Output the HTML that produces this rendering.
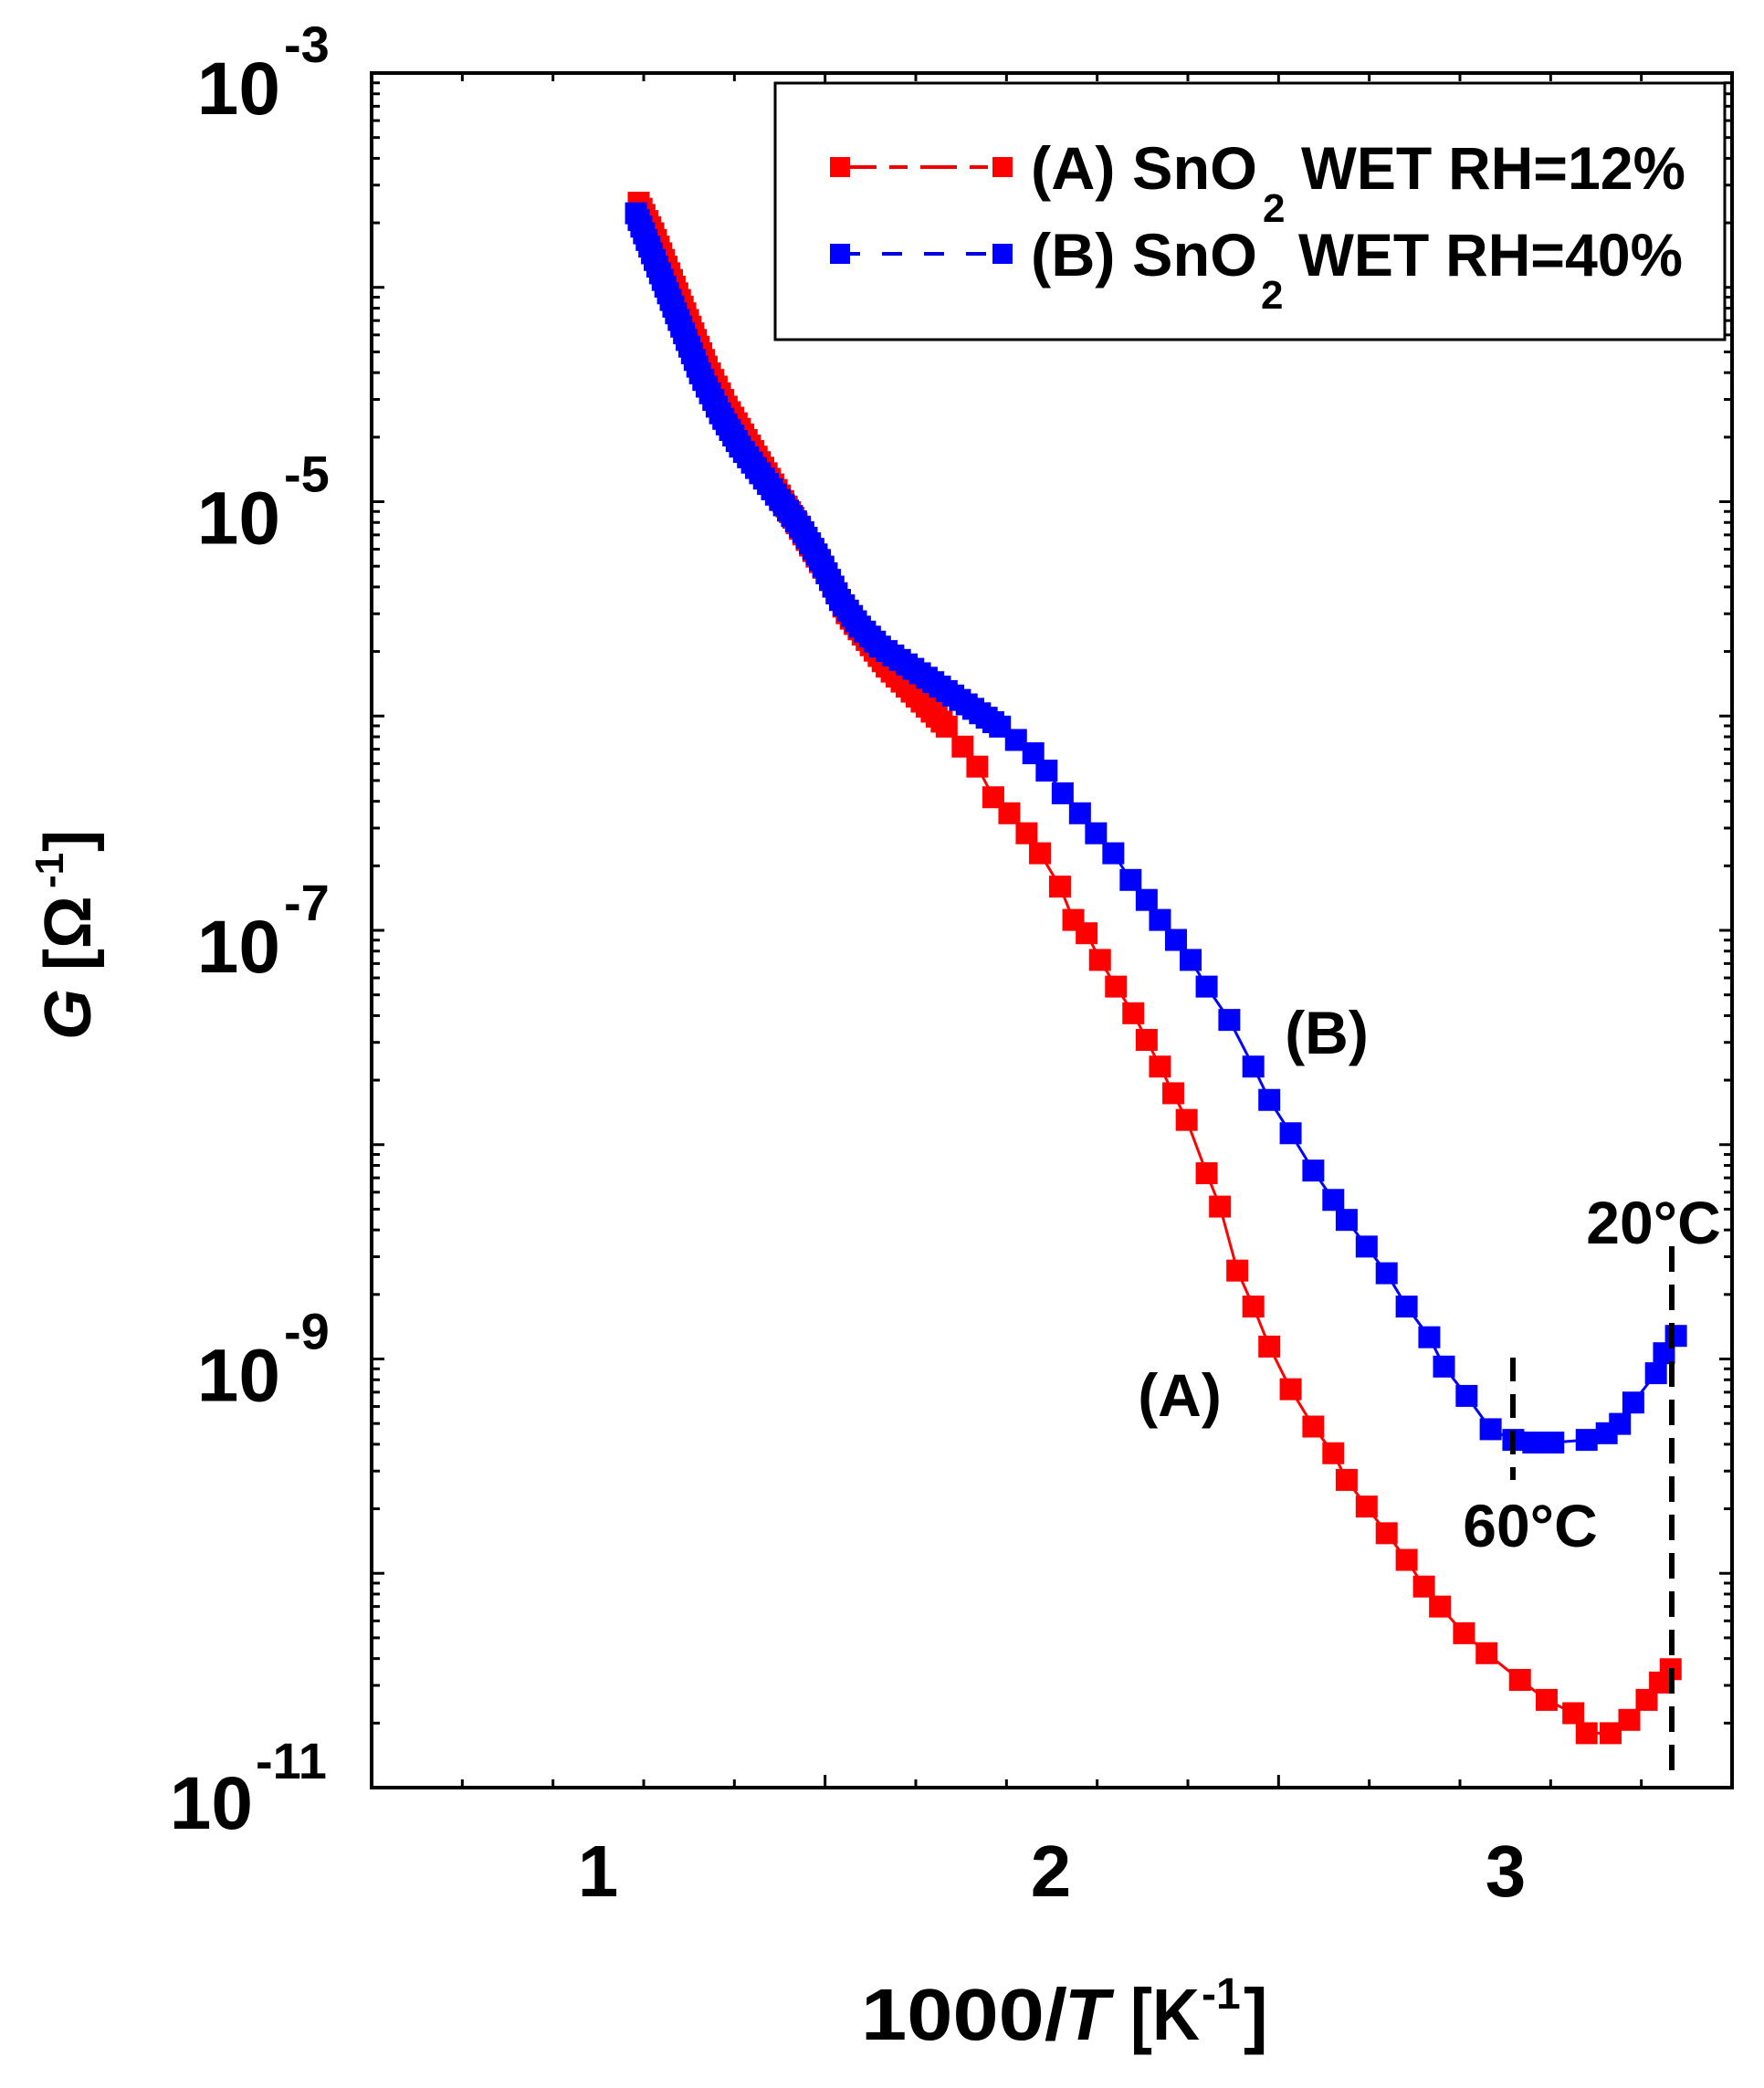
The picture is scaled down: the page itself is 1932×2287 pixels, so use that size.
<!DOCTYPE html>
<html><head><meta charset="utf-8"><style>
html,body{margin:0;padding:0;background:#fff;}
svg{display:block;}
text{font-family:"Liberation Sans",sans-serif;font-weight:bold;fill:#000;}
</style></head><body>
<svg id="s" width="1932" height="2287" viewBox="0 0 1932 2287" xmlns="http://www.w3.org/2000/svg">
<rect width="1932" height="2287" fill="#fff"/>
<g id="ticks" stroke="#000" stroke-width="3"></g>
<g id="data"></g>
<line x1="1657" y1="1487" x2="1657" y2="1621" stroke="#000" stroke-width="6" stroke-dasharray="26,14"/>
<line x1="1831" y1="1365" x2="1831" y2="1942" stroke="#000" stroke-width="6" stroke-dasharray="28,14"/>
<rect x="407" y="80" width="1490" height="1878" fill="none" stroke="#000" stroke-width="4"/>
<rect x="849" y="91" width="1040" height="281" fill="#fff" stroke="#000" stroke-width="3"/>
<line x1="920" y1="183" x2="1098" y2="183" stroke="#e00" stroke-width="4" stroke-dasharray="40,14,20,14"/>
<rect x="909" y="172" width="22" height="22" fill="#f00"/>
<rect x="1087" y="172" width="22" height="22" fill="#f00"/>
<line x1="920" y1="278" x2="1098" y2="278" stroke="#00d" stroke-width="4" stroke-dasharray="22,24"/>
<rect x="909" y="267" width="22" height="22" fill="#00f"/>
<rect x="1087" y="267" width="22" height="22" fill="#00f"/>
<text x="1129" y="207" font-size="66" textLength="248" lengthAdjust="spacingAndGlyphs">(A) SnO</text>
<text x="1383" y="243" font-size="44">2</text>
<text x="1425" y="207" font-size="66" textLength="421" lengthAdjust="spacingAndGlyphs">WET RH=12%</text>
<text x="1129" y="302" font-size="66" textLength="248" lengthAdjust="spacingAndGlyphs">(B) SnO</text>
<text x="1381" y="338" font-size="44">2</text>
<text x="1422" y="302" font-size="66" textLength="421" lengthAdjust="spacingAndGlyphs">WET RH=40%</text>
<g id="ylab"></g>
<text x="655" y="2077" font-size="80" text-anchor="middle">1</text>
<text x="1151" y="2077" font-size="80" text-anchor="middle">2</text>
<text x="1649" y="2077" font-size="80" text-anchor="middle">3</text>
<text x="943" y="2234" font-size="80" textLength="226" lengthAdjust="spacingAndGlyphs">1000/</text>
<text x="1166" y="2234" font-size="80" font-style="italic">T</text>
<text x="1238" y="2234" font-size="80" textLength="76" lengthAdjust="spacingAndGlyphs">[K</text>
<text x="1316" y="2200" font-size="48">-1</text>
<text x="1362" y="2234" font-size="80">]</text>
<g transform="translate(99,1139) rotate(-90)">
<text x="0" y="0" font-size="72"><tspan font-style="italic">G</tspan> [Ω</text>
<text x="166" y="-30" font-size="44">-1</text>
<text x="206" y="0" font-size="72">]</text>
</g>
<text x="1453" y="1154" font-size="66" text-anchor="middle">(B)</text>
<text x="1292" y="1551" font-size="66" text-anchor="middle">(A)</text>
<text x="1676" y="1694" font-size="66" text-anchor="middle">60°C</text>
<text x="1811" y="1362" font-size="66" text-anchor="middle">20°C</text>
</svg>
<script>
var NS="http://www.w3.org/2000/svg",S=1.4603;
function el(t,a,p){var e=document.createElementNS(NS,t);for(var k in a)e.setAttribute(k,a[k]);p.appendChild(e);return e;}
var tk=document.getElementById('ticks');
var L=407,R=1897,T=80,B=1958,dec=(B-T)/8;
for(var d=0;d<8;d++){for(var m=1;m<10;m++){var y=B-d*dec-Math.log10(m)*dec;var len=m==1?14:9;
el('line',{x1:L,y1:y,x2:L+len,y2:y},tk);el('line',{x1:R,y1:y,x2:R-len,y2:y},tk);}}
for(var i=0;i<=15;i++){var x=L+i*(R-L)/15;var len=(i%5==0)?14:9;
el('line',{x1:x,y1:B,x2:x,y2:B-len},tk);el('line',{x1:x,y1:T,x2:x,y2:T+len},tk);}
var yl=document.getElementById('ylab');
[-3,-5,-7,-9,-11].forEach(function(e){var y=T+(-3-e)*dec;
var t=el('text',{x:307,y:y+46,'font-size':82,'text-anchor':'end'},yl);t.textContent='10';
var s=el('text',{x:311,y:y-11,'font-size':56},yl);s.textContent=''+e;});
yl.lastChild.setAttribute('x',280);yl.lastChild.setAttribute('y',1948);
yl.childNodes[yl.childNodes.length-2].setAttribute('x',277);yl.childNodes[yl.childNodes.length-2].setAttribute('y',2003);
yl.childNodes[0].setAttribute('y',125);yl.childNodes[1].setAttribute('y',68);
var red=[[479,152],[490,175],[500,200],[510,225],[520,250],[530,275],[545,305],[560,330],[575,355],[590,380],[605,405],[620,430],[635,460],[650,480],[665,500],[680,515],[695,530],[710,545],[722,560],[733,575],[745,598],[757,610],[770,625],[780,640],[795,665],[805,690],[815,700],[825,720],[837,740],[850,760],[860,780],[870,800],[880,820],[890,840],[905,880],[915,905],[928,953],[940,980],[952,1010],[968,1042],[985,1070],[1000,1090],[1010,1110],[1025,1130],[1040,1150],[1055,1170],[1068,1190],[1080,1205],[1098,1225],[1115,1240],[1140,1260],[1160,1275],[1180,1285],[1190,1300],[1208,1300],[1222,1290],[1235,1275],[1245,1262],[1253,1252]];
var blue=[[477,160],[485,180],[495,205],[505,230],[515,255],[525,280],[540,310],[555,335],[570,355],[585,375],[600,395],[615,420],[630,450],[645,470],[660,485],[675,495],[690,505],[705,515],[720,525],[735,535],[750,545],[762,555],[775,565],[785,578],[797,595],[810,610],[822,625],[835,640],[848,660],[860,675],[870,690],[882,705],[893,720],[905,740],[922,765],[940,800],[952,825],[968,850],[985,878],[1000,900],[1010,915],[1025,935],[1040,955],[1055,980],[1072,1003],[1083,1025],[1100,1047],[1118,1072],[1135,1080],[1150,1082],[1165,1082],[1190,1080],[1205,1075],[1215,1068],[1225,1052],[1242,1030],[1248,1015],[1257,1002]];
var dg=document.getElementById('data');
function draw(pts,col,denseTo){
 var P=pts.map(function(p){return [p[0]*S,p[1]*S];});
 el('polyline',{points:P.map(function(p){return p.join(',')}).join(' '),fill:'none',stroke:col,'stroke-width':3},dg);
 var M=[];
 for(var i=0;i<P.length-1;i++){
  var a=P[i],b=P[i+1];M.push(a);
  if(pts[i][0]<denseTo){var dx=b[0]-a[0],dy=b[1]-a[1],l=Math.sqrt(dx*dx+dy*dy),n=Math.floor(l/7);
   for(var k=1;k<n;k++)M.push([a[0]+dx*k/n,a[1]+dy*k/n]);}
 }
 M.push(P[P.length-1]);
 M.forEach(function(p){el('rect',{x:p[0]-12,y:p[1]-12,width:24,height:24,fill:col},dg);});
}
draw(red,'#f00',700);
draw(blue,'#00f',740);
</script>
</body></html>
